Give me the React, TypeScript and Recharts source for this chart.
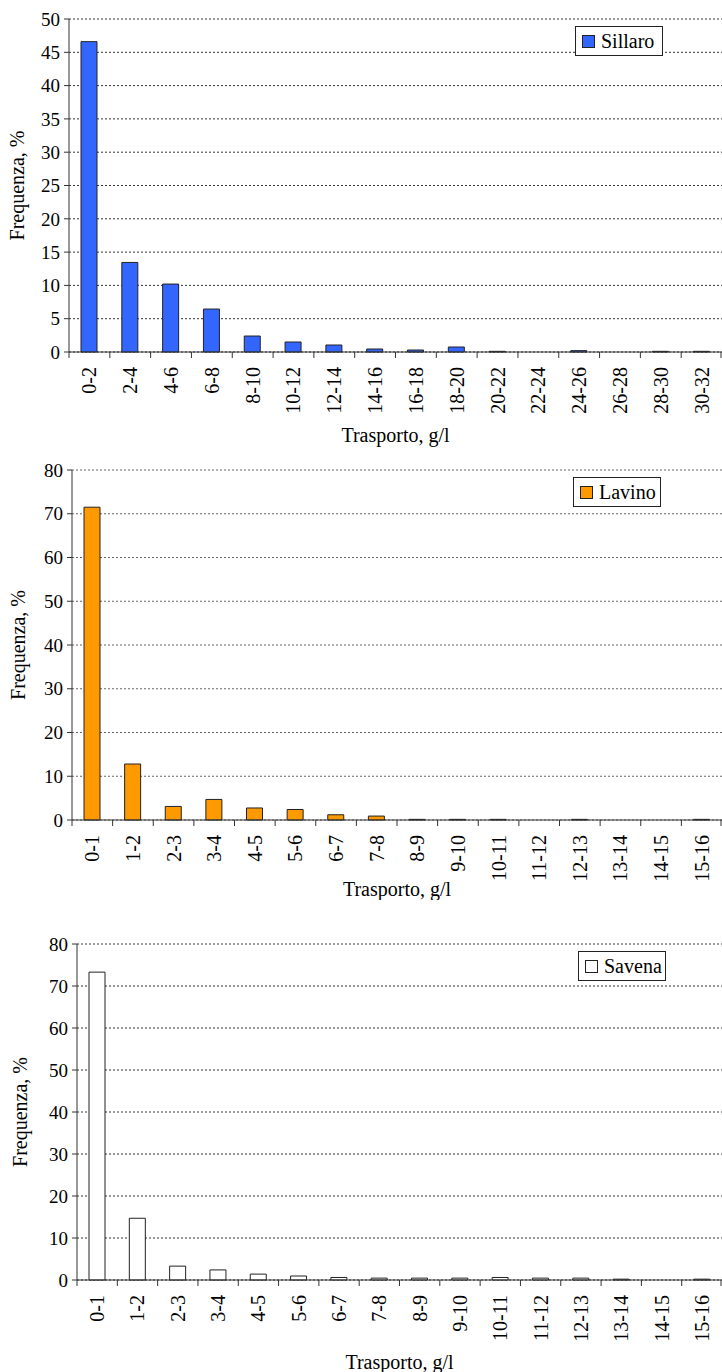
import { BarChart, Bar, XAxis, YAxis, CartesianGrid } from "recharts";

const FONT = '"Liberation Serif", "Times New Roman", serif';

// classi di trasporto solido (g/l) e frequenze percentuali
const sillaroClasses = [
  "0-2", "2-4", "4-6", "6-8", "8-10", "10-12", "12-14", "14-16",
  "16-18", "18-20", "20-22", "22-24", "24-26", "26-28", "28-30", "30-32",
];
const sillaroFreq = [46.6, 13.45, 10.2, 6.45, 2.4, 1.5, 1.05, 0.45, 0.3, 0.75, 0.1, 0, 0.2, 0, 0.1, 0.1];

const lavinoClasses = [
  "0-1", "1-2", "2-3", "3-4", "4-5", "5-6", "6-7", "7-8",
  "8-9", "9-10", "10-11", "11-12", "12-13", "13-14", "14-15", "15-16",
];
const lavinoFreq = [71.5, 12.8, 3.1, 4.7, 2.75, 2.4, 1.2, 0.9, 0.15, 0.15, 0.15, 0, 0.15, 0, 0, 0.15];

const savenaClasses = lavinoClasses;
const savenaFreq = [73.3, 14.7, 3.3, 2.4, 1.4, 0.95, 0.6, 0.45, 0.45, 0.45, 0.6, 0.45, 0.45, 0.2, 0, 0.2];

const ticks50 = [0, 5, 10, 15, 20, 25, 30, 35, 40, 45, 50];
const ticks80 = [0, 10, 20, 30, 40, 50, 60, 70, 80];

const WIDTH = 722;

interface HistProps {
  name: string;
  classes: string[];
  values: number[];
  yTicks: number[];
  fill: string;
  gridColor: string;
  height: number;
  marginTop: number;
  xAxisHeight: number;
  yAxisWidth: number;
  legendLeft: number;
  legendTop: number;
  titleOffset: number;
  yTitleOffset: number;
}

function Histogram(p: HistProps) {
  const data = p.classes.map((c, i) => ({ classe: c, freq: p.values[i] }));
  const half = (WIDTH - p.yAxisWidth) / p.classes.length / 2;

  // etichette ruotate + tacche ai bordi delle classi
  const renderTick = (props: any) => {
    const { x, y, payload, index } = props;
    const ty = y + 15;
    return (
      <g>
        <line x1={x - half} x2={x - half} y1={y} y2={y + 6} stroke="#333" />
        {index === p.classes.length - 1 && (
          <line x1={x + half - 1} x2={x + half - 1} y1={y} y2={y + 6} stroke="#333" />
        )}
        <text
          x={x}
          y={ty}
          transform={`rotate(-90 ${x} ${ty})`}
          textAnchor="end"
          dominantBaseline="central"
          fontFamily="Liberation Serif"
          style={{ fontFamily: FONT, fontSize: 20, fill: "#000" }}
        >
          {payload.value}
        </text>
      </g>
    );
  };

  return (
    <div style={{ position: "relative", width: WIDTH, height: p.height, fontFamily: FONT }}>
      <BarChart
        width={WIDTH}
        height={p.height}
        data={data}
        margin={{ top: p.marginTop, right: 0, bottom: 0, left: 0 }}
        barCategoryGap={0}
        style={{ fontFamily: FONT }}
      >
        <CartesianGrid vertical={false} stroke={p.gridColor} strokeDasharray="2 2" />
        <XAxis
          dataKey="classe"
          interval={0}
          height={p.xAxisHeight}
          tickSize={0}
          tickMargin={0}
          tickLine={false}
          tick={renderTick}
          axisLine={{ stroke: "#333" }}
          label={{
            value: "Trasporto, g/l",
            position: "insideBottom",
            offset: p.titleOffset,
            style: { fontFamily: FONT, fontSize: 20, fill: "#000" },
          }}
        />
        <YAxis
          width={p.yAxisWidth}
          domain={[p.yTicks[0], p.yTicks[p.yTicks.length - 1]]}
          ticks={p.yTicks}
          interval={0}
          tickSize={5}
          tickMargin={4}
          axisLine={{ stroke: "#333" }}
          tickLine={{ stroke: "#333" }}
          tick={{ fontSize: 19, fill: "#000", fontFamily: "Liberation Serif", style: { fontFamily: FONT } }}
          label={{
            value: "Frequenza, %",
            angle: -90,
            position: "insideLeft",
            offset: p.yTitleOffset,
            style: { fontFamily: FONT, fontSize: 20, fill: "#000", textAnchor: "middle" },
          }}
        />
        <Bar
          dataKey="freq"
          name={p.name}
          fill={p.fill}
          stroke="#222"
          strokeWidth={1}
          barSize={16}
          isAnimationActive={false}
        />
      </BarChart>
      {/* legenda della serie */}
      <div
        style={{
          position: "absolute",
          left: p.legendLeft,
          top: p.legendTop,
          border: "1px solid #222",
          background: "#fff",
          width: 86,
          height: 28,
          display: "flex",
          alignItems: "center",
          fontSize: 20,
          color: "#000",
        }}
      >
        <span
          style={{
            display: "inline-block",
            width: 11,
            height: 11,
            marginLeft: 6,
            marginRight: 6,
            background: p.fill,
            border: "1px solid #222",
          }}
        />
        {p.name}
      </div>
    </div>
  );
}

export default function App() {
  return (
    <div
      style={{
        position: "absolute",
        left: 0,
        top: 0,
        width: WIDTH,
        height: 1372,
        background: "#fff",
        overflow: "hidden",
        fontFamily: FONT,
      }}
    >
      <div style={{ position: "absolute", left: 0, top: 0 }}>
        <Histogram
          name="Sillaro"
          classes={sillaroClasses}
          values={sillaroFreq}
          yTicks={ticks50}
          fill="#3366ff"
          gridColor="#333"
          height={450}
          marginTop={19}
          xAxisHeight={98}
          yAxisWidth={69}
          legendLeft={575}
          legendTop={26}
          titleOffset={8}
          yTitleOffset={17}
        />
      </div>
      <div style={{ position: "absolute", left: 0, top: 450 }}>
        <Histogram
          name="Lavino"
          classes={lavinoClasses}
          values={lavinoFreq}
          yTicks={ticks80}
          fill="#ff9900"
          gridColor="#666"
          height={450}
          marginTop={20}
          xAxisHeight={80}
          yAxisWidth={72}
          legendLeft={573}
          legendTop={27}
          titleOffset={4}
          yTitleOffset={18}
        />
      </div>
      <div style={{ position: "absolute", left: 0, top: 900 }}>
        <Histogram
          name="Savena"
          classes={savenaClasses}
          values={savenaFreq}
          yTicks={ticks80}
          fill="#ffffff"
          gridColor="#333"
          height={472}
          marginTop={44}
          xAxisHeight={92}
          yAxisWidth={77}
          legendLeft={578}
          legendTop={51}
          titleOffset={3}
          yTitleOffset={20}
        />
      </div>
    </div>
  );
}
